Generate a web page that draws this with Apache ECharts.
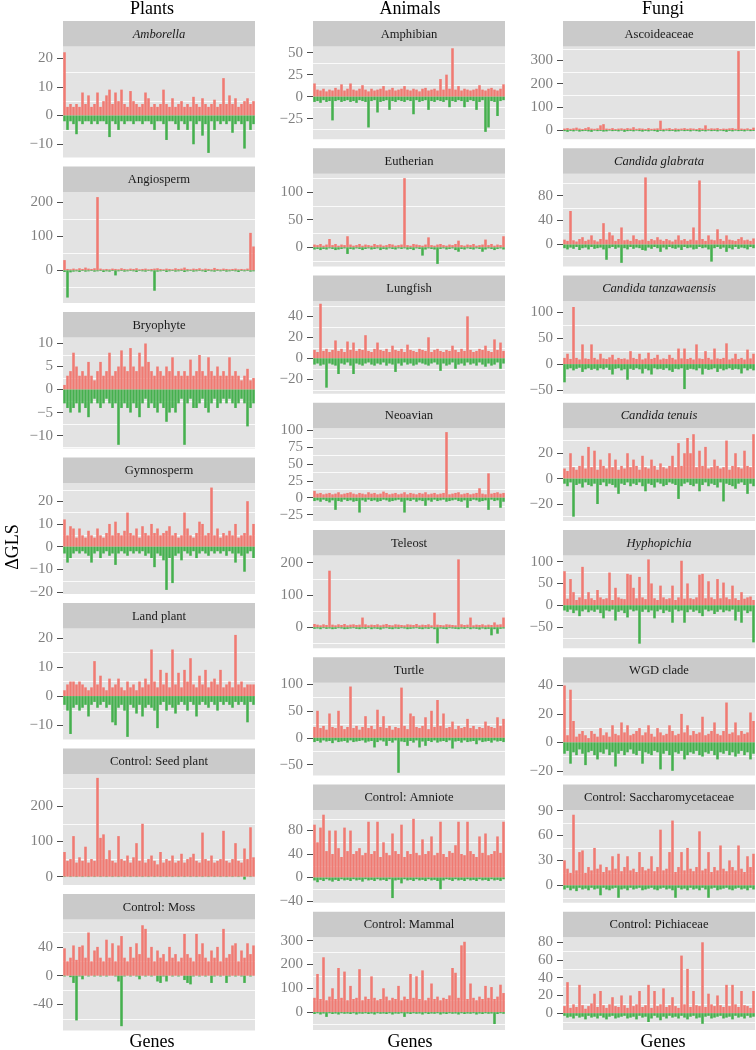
<!DOCTYPE html>
<html><head><meta charset="utf-8">
<script src="https://cdn.jsdelivr.net/npm/echarts@6/dist/echarts.min.js"></script>
<style>html,body{margin:0;padding:0;background:#fff}#c{width:756px;height:1050px}</style>
</head><body><div id="c"></div>
<script>
// ---------------- DATA (ΔGLS per gene bin) ----------------
const amborellaPos=[22,3,4,3,4,3,8,4,7,3,4,8,3,5,7,9, 4,8,5,9,4,3,8.5,5,4,3,4,8,6,3,4,3, 4,9,4,3,6,3,4,5,3,4,3,6.5,4,3,6,4, 3,4,5.5,3,4,13,4,7,4,6,3,4,5,6,4,5];
const amborellaNeg=[-2,-5,-2,-3,-6.5,-2,-3,-2,-2,-3,-2,-3,-2,-2,-3,-7.5, -2,-3,-5,-2,-3,-2,-2,-3,-2,-2,-3,-2,-2,-3,-5,-2, -2,-3,-8.5,-2,-2,-3,-5,-2,-3,-5,-2,-10,-3,-2,-7,-3, -13,-2,-5,-2,-3,-2,-3,-2,-6,-3,-2,-3,-11.5,-2,-5,-3];
const angiospermPos=[30,4,3,5,3,6,4,8,5,4,6,215,5,3,4,3, 5,4,3,6,4,3,5,4,6,3,4,5,3,4,5,6, 4,3,5,4,3,6,4,5,8,4,3,5,4,6,3,5, 4,3,7,4,3,5,4,3,4,5,3,4,3,5,110,70];
const angiospermNeg=[-5,-80,-6,-4,-3,-5,-2,-4,-3,-2,-4,-3,-2,-5,-3,-4, -2,-15,-3,-2,-4,-3,-2,-3,-5,-2,-3,-4,-2,-3,-60,-4, -3,-2,-5,-3,-2,-4,-3,-2,-5,-3,-2,-4,-3,-2,-3,-5, -2,-3,-4,-2,-3,-2,-4,-3,-2,-3,-5,-2,-3,-2,-4,-3];
const bryophytePos=[1,3,4,8,5,3,4,3,6,3,2,4,6,3,4,8, 3,4,5,8.5,5,4,9,5,4,8,5,10,6,4,3,5, 4,3,5,4,7,3,4,3,4,3,6.5,3,4,7.5,4,3, 7,4,3,5,3,4,3,7,3,4,3,2,3,4.5,2,2.5];
const bryophyteNeg=[-3,-4,-5,-4,-3,-5,-3,-4,-6,-3,-2,-3,-4,-3,-2,-3, -4,-3,-12,-4,-3,-4,-5,-3,-4,-6,-3,-2,-4,-3,-4,-5, -3,-4,-7,-5,-4,-5,-3,-2,-12,-3,-2,-4,-4,-3,-2,-4, -5,-3,-2,-4,-3,-2,-3,-2,-3,-4,-3,-2,-3,-8,-4,-3];
const gymnospermPos=[12,5,9,8,4,8,5,4,7,5,4,8,5,4,6,10, 5,11,6,5,7,15,6,5,8,4,9,6,5,10,6,8, 5,6,7,9,5,6,4,5,15,8,5,4,6,11,10,5, 6,26,5,8,4,6,5,7,5,10,4,5,6,20,5,10];
const gymnospermNeg=[-3,-7,-5,-3,-2,-3,-2,-3,-4,-7,-3,-2,-5,-3,-2,-4, -3,-8,-3,-2,-3,-4,-2,-3,-2,-3,-2,-4,-3,-5,-9,-3, -4,-6,-19,-5,-16,-4,-3,-6,-2,-3,-4,-2,-5,-3,-2,-3, -4,-2,-3,-2,-3,-2,-4,-2,-3,-7,-3,-4,-11,-3,-2,-5];
const landPlantPos=[2,4,5,5,4,5,4,3,2,3,12,4,7,3,2,6, 3,4,6,3,2,5,3,4,2,5,3,6,4,16,5,3, 9,4,8,3,16,4,8,3,9,5,13,4,3,7,4,9, 3,5,6,4,9,3,4,5,3,21,4,5,3,4,4,4];
const landPlantNeg=[-3,-5,-13,-4,-3,-5,-4,-3,-7,-3,-2,-4,-3,-2,-4,-3, -9,-10,-4,-3,-5,-14,-3,-4,-6,-3,-7,-4,-3,-4,-5,-11, -3,-2,-5,-3,-4,-6,-3,-2,-3,-5,-2,-3,-7,-3,-2,-3, -4,-2,-3,-5,-2,-3,-2,-3,-4,-2,-3,-2,-3,-9,-2,-3];
const seedPlantPos=[70,45,50,115,40,55,45,85,40,50,45,280,110,120,50,75, 45,40,115,50,45,60,40,55,95,45,150,40,50,60,45,35, 70,40,50,45,60,40,45,65,40,50,55,65,45,40,125,50, 45,60,40,45,50,130,45,40,50,95,45,40,80,50,140,55];
const seedPlantNeg=[-1,0,-1,0,-1,0,-1,0,-1,0,-1,0,-1,0,-1,0, -1,0,-1,0,-1,0,-1,0,-1,0,-1,0,-1,0,-1,0, -1,0,-1,0,-1,0,-1,0,-1,0,-1,0,-1,0,-1,0, -1,0,-1,0,-1,0,-1,0,-1,0,-1,0,-8,0,-1,0];
const mossPos=[38,20,25,42,22,40,42,25,60,20,35,40,25,20,50,25, 45,20,42,55,25,20,40,25,45,30,70,65,25,40,20,35, 25,30,20,40,25,30,20,25,58,30,25,20,58,30,45,25, 20,35,25,40,20,65,25,30,42,45,20,35,25,45,30,42];
const mossNeg=[-1,0,-2,-10,-62,-1,-5,0,-1,0,-1,0,-1,0,-1,0, 0,-1,-8,-70,-1,0,-1,0,-1,-5,0,-1,0,-1,0,-8, -10,-1,-8,0,-1,0,-1,0,-6,-10,-12,-1,0,-1,0,-1, 0,-10,-1,0,-1,0,-10,-1,0,-1,0,-1,-10,0,-1,0];

const amphibianPos=[15,8,7,9,6,8,7,10,8,14,7,9,15,8,7,9, 13,8,6,9,7,8,9,12,7,8,10,7,8,9,12,8, 7,9,8,6,9,10,7,8,9,7,20,8,25,9,55,8, 12,7,9,8,7,8,9,13,8,7,9,10,8,7,9,14];
const amphibianNeg=[-6,-5,-7,-4,-6,-5,-27,-5,-4,-6,-5,-4,-6,-5,-7,-4, -5,-6,-35,-5,-4,-18,-6,-5,-4,-15,-5,-6,-4,-5,-6,-4, -5,-20,-4,-6,-5,-4,-15,-5,-6,-4,-5,-6,-4,-12,-5,-6, -4,-5,-12,-6,-4,-5,-15,-6,-4,-40,-35,-5,-6,-22,-5,-4];
const eutherianPos=[5,4,6,3,5,15,4,6,3,5,4,20,5,3,4,6, 3,5,4,3,6,4,5,3,4,6,5,3,4,5,125,4, 3,6,5,4,3,5,18,4,3,5,6,4,3,5,4,6, 12,4,3,5,4,6,3,4,5,14,4,6,3,5,4,20];
const eutherianNeg=[-4,-3,-5,-3,-4,-2,-3,-5,-4,-3,-2,-12,-3,-4,-2,-3, -5,-3,-2,-4,-3,-2,-5,-3,-4,-2,-3,-4,-2,-3,-2,-4, -3,-5,-2,-3,-15,-4,-2,-3,-4,-30,-3,-2,-4,-3,-2,-5, -8,-3,-4,-2,-3,-4,-2,-3,-8,-4,-2,-3,-5,-3,-2,-4];
const lungfishPos=[8,6,52,7,9,6,8,17,7,9,6,16,8,15,7,9, 8,22,7,6,9,15,8,7,9,6,12,8,7,9,6,13, 8,7,6,9,8,7,20,6,8,9,7,6,8,7,12,8, 6,9,7,40,8,6,7,9,8,12,7,6,18,8,15,7];
const lungfishNeg=[-6,-5,-7,-6,-28,-5,-6,-7,-15,-5,-6,-4,-7,-15,-5,-6, -7,-5,-4,-6,-7,-5,-6,-4,-7,-5,-6,-13,-5,-7,-4,-6, -5,-7,-6,-4,-5,-6,-7,-5,-4,-6,-12,-5,-7,-6,-4,-10, -6,-5,-7,-4,-6,-5,-7,-4,-6,-8,-5,-7,-6,-4,-10,-5];
const neoavianPos=[10,6,7,5,6,7,5,6,8,5,6,7,8,6,5,7, 6,5,8,6,7,5,6,9,7,5,6,7,5,6,8,5, 7,6,5,7,6,8,5,6,7,5,6,7,97,5,6,7, 8,5,6,7,5,6,7,14,6,5,36,6,7,8,6,7];
const neoavianNeg=[-5,-4,-6,-3,-5,-7,-4,-18,-5,-6,-3,-5,-4,-6,-5,-22, -4,-6,-3,-5,-4,-6,-5,-3,-4,-6,-5,-4,-3,-6,-22,-4, -5,-3,-6,-4,-5,-12,-4,-6,-3,-5,-4,-3,-6,-5,-4,-3, -5,-6,-4,-15,-5,-3,-4,-6,-5,-4,-18,-3,-5,-4,-15,-6];
const teleostPos=[10,8,6,9,7,175,8,6,9,7,10,6,8,9,7,8, 30,9,6,8,7,9,6,8,10,7,6,9,8,7,6,9, 8,7,10,6,8,7,9,6,45,8,7,6,9,8,7,6, 210,9,7,8,30,6,8,7,9,6,8,7,15,8,9,30];
const teleostNeg=[-5,-4,-6,-3,-5,-4,-6,-5,-3,-4,-6,-5,-4,-3,-5,-6, -4,-5,-3,-6,-4,-5,-7,-4,-3,-5,-6,-4,-5,-3,-4,-6, -5,-4,-3,-5,-6,-4,-5,-3,-6,-50,-4,-5,-6,-3,-4,-5, -6,-4,-5,-3,-6,-4,-5,-7,-4,-6,-5,-25,-6,-20,-5,-4];
const turtlePos=[20,50,18,22,15,45,20,18,50,22,16,20,95,18,22,15, 20,40,18,22,16,52,20,40,18,22,15,20,18,93,22,16, 45,40,20,18,22,38,16,50,20,70,22,45,18,20,30,16, 22,18,20,35,18,22,16,20,18,30,22,20,18,38,22,35];
const turtleNeg=[-8,-6,-9,-5,-7,-6,-10,-5,-8,-7,-6,-9,-5,-8,-7,-6, -5,-9,-7,-6,-18,-8,-5,-7,-15,-6,-9,-5,-65,-7,-8,-15, -6,-9,-5,-18,-7,-15,-6,-8,-5,-9,-7,-6,-8,-5,-20,-7, -6,-9,-5,-8,-7,-6,-12,-5,-8,-7,-6,-9,-5,-7,-6,-8];
const amniotePos=[90,60,85,107,45,80,40,80,50,35,85,45,80,40,45,50, 38,42,95,40,45,95,35,60,42,38,75,45,40,90,35,45, 40,100,42,38,65,40,45,70,38,42,95,40,35,45,42,55, 95,40,38,95,45,40,35,70,42,75,38,40,45,70,42,95];
const amnioteNeg=[-5,-8,-4,-6,-3,-5,-7,-4,-6,-3,-5,-4,-6,-3,-5,-4, -7,-3,-5,-4,-6,-3,-5,-4,-6,-3,-35,-5,-4,-10,-3,-5, -4,-6,-3,-5,-4,-6,-3,-5,-4,-6,-20,-5,-3,-4,-6,-3, -5,-4,-6,-3,-5,-4,-6,-3,-5,-4,-6,-3,-5,-4,-6,-3];
const mammalPos=[60,160,55,230,50,65,100,55,185,60,170,50,110,55,60,180, 50,65,55,150,60,50,55,100,65,50,60,55,110,50,65,55, 160,60,150,55,175,50,60,120,55,65,50,60,55,70,185,165, 60,280,295,55,120,60,50,65,55,110,60,105,55,65,115,80];
const mammalNeg=[-8,-5,-10,-6,-20,-5,-8,-6,-10,-5,-7,-6,-8,-5,-10,-6, -7,-5,-8,-6,-10,-5,-7,-6,-8,-5,-10,-6,-7,-5,-20,-6, -8,-5,-7,-6,-10,-5,-8,-6,-7,-5,-10,-6,-8,-5,-7,-6, -10,-5,-8,-6,-7,-5,-10,-6,-8,-5,-7,-6,-50,-8,-5,-7];

const ascoidPos=[6,8,5,7,10,6,4,8,12,6,5,7,20,25,6,5, 8,4,6,7,5,8,6,12,5,7,6,4,8,5,6,7, 40,5,6,8,4,7,5,6,8,5,7,6,4,8,6,20, 5,7,6,8,4,6,5,7,8,5,340,6,5,7,4,10];
const ascoidNeg=[-5,-8,-4,-6,-3,-7,-5,-4,-6,-8,-3,-5,-4,-7,-6,-3, -5,-4,-6,-3,-8,-5,-4,-6,-3,-5,-7,-4,-6,-3,-5,-8, -4,-6,-3,-5,-4,-7,-6,-3,-5,-4,-6,-3,-5,-7,-4,-6, -3,-5,-4,-6,-3,-5,-8,-4,-6,-3,-5,-4,-6,-3,-5,-4];
const glabrataPos=[8,6,55,7,5,9,12,6,8,15,7,5,9,35,8,20, 15,6,9,28,7,8,6,15,9,7,8,110,6,9,7,12, 8,6,9,7,5,8,15,7,9,6,8,28,7,105,9,6, 15,8,7,25,9,6,15,8,7,6,9,12,7,8,6,10];
const glabrataNeg=[-6,-8,-5,-7,-4,-9,-6,-5,-8,-4,-7,-6,-5,-8,-25,-6, -4,-7,-5,-30,-6,-8,-4,-7,-5,-6,-9,-10,-5,-7,-4,-6, -12,-5,-8,-4,-6,-7,-5,-9,-4,-6,-5,-8,-7,-4,-6,-5, -8,-28,-6,-4,-7,-5,-12,-6,-8,-4,-7,-5,-6,-8,-4,-6];
const tanzawaensisPos=[12,20,10,110,12,9,38,11,10,38,12,9,20,11,10,13, 18,9,12,10,11,9,25,12,10,20,9,11,22,10,12,18, 9,11,10,18,12,9,30,11,30,10,12,9,38,11,10,25, 12,9,30,11,10,12,40,9,11,20,10,12,9,28,11,20];
const tanzawaensisNeg=[-35,-10,-8,-12,-9,-7,-15,-10,-8,-11,-9,-12,-8,-10,-7,-11, -20,-9,-8,-12,-10,-30,-9,-11,-8,-10,-18,-9,-12,-20,-8,-10, -9,-11,-8,-12,-15,-9,-10,-8,-48,-11,-9,-10,-12,-8,-20,-9, -11,-10,-8,-15,-9,-12,-10,-8,-11,-9,-10,-18,-8,-12,-9,-12];
const tenuisPos=[8,6,20,9,7,10,18,8,25,9,22,7,15,10,8,20, 9,15,7,10,8,20,9,15,10,7,18,9,8,15,10,7, 12,9,8,10,18,9,28,10,20,32,20,35,9,22,10,25, 8,9,15,10,8,9,30,7,10,20,9,8,22,10,9,35];
const tenuisNeg=[-4,-6,-3,-30,-5,-4,-7,-3,-5,-6,-4,-20,-5,-3,-6,-4, -5,-7,-12,-4,-5,-3,-6,-4,-5,-3,-6,-10,-4,-5,-7,-3, -4,-6,-5,-3,-4,-5,-16,-6,-4,-3,-5,-6,-4,-10,-5,-3, -6,-4,-5,-7,-3,-18,-4,-5,-6,-8,-4,-3,-5,-12,-4,-6];
const hyphopichiaPos=[78,15,60,30,12,18,88,14,30,16,12,35,18,14,16,75, 12,40,18,15,14,72,70,40,16,65,18,14,105,50,16,12, 45,18,14,16,45,12,18,102,15,50,16,14,18,70,72,16, 55,18,14,60,16,52,18,14,45,16,12,30,15,18,20,12];
const hyphopichiaNeg=[-12,-15,-10,-18,-12,-25,-14,-10,-16,-12,-15,-10,-18,-30,-12,-14, -10,-35,-15,-12,-18,-28,-10,-14,-12,-88,-15,-10,-16,-12,-30,-14, -10,-18,-12,-15,-40,-10,-14,-12,-40,-16,-10,-15,-12,-18,-25,-10, -14,-12,-20,-15,-10,-16,-12,-14,-10,-35,-15,-40,-12,-18,-14,-85];
const wgdPos=[40,5,37,15,4,6,8,5,3,8,6,4,10,5,7,4, 12,6,5,14,7,12,5,6,8,10,5,7,12,6,4,10, 7,5,6,12,8,5,6,20,7,12,5,8,6,7,18,5, 6,8,14,6,5,8,28,6,7,14,5,8,6,7,21,15];
const wgdNeg=[-8,-6,-15,-7,-9,-5,-8,-16,-7,-6,-9,-12,-7,-8,-5,-9, -7,-17,-8,-6,-9,-7,-5,-8,-9,-6,-15,-7,-8,-9,-6,-7, -19,-8,-6,-9,-20,-7,-8,-6,-12,-9,-7,-8,-6,-9,-10,-7, -8,-6,-9,-12,-7,-8,-6,-9,-7,-10,-8,-6,-9,-7,-12,-8];
const saccharoPos=[30,20,15,85,18,40,42,15,22,18,45,20,25,16,22,18, 35,20,38,17,22,35,18,20,16,40,22,18,20,35,17,22, 67,18,20,40,78,16,22,40,18,45,20,17,22,65,18,20, 40,16,22,18,48,20,17,30,22,18,48,20,16,35,22,38];
const saccharoNeg=[-5,-3,-6,-4,-7,-3,-5,-4,-6,-3,-5,-4,-12,-3,-5,-6, -4,-3,-15,-5,-4,-6,-3,-5,-4,-3,-6,-5,-4,-3,-5,-6, -4,-3,-5,-4,-6,-15,-3,-5,-4,-6,-3,-5,-4,-6,-3,-5, -15,-4,-3,-6,-5,-4,-3,-5,-6,-4,-3,-5,-4,-6,-3,-5];
const pichiaPos=[8,35,6,10,7,32,9,5,8,11,22,7,25,9,6,10, 18,8,7,20,9,6,20,8,10,25,7,9,32,6,25,8, 10,28,7,9,18,8,6,65,10,50,7,25,9,8,80,7, 22,10,8,20,9,7,32,8,32,10,7,25,9,8,6,25];
const pichiaNeg=[-3,-5,-4,-6,-3,-5,-4,-7,-3,-5,-4,-6,-3,-5,-7,-4, -3,-6,-5,-4,-3,-6,-5,-4,-7,-3,-5,-4,-10,-6,-3,-5, -8,-4,-6,-3,-5,-4,-6,-3,-5,-7,-4,-3,-6,-5,-12,-4, -3,-6,-5,-4,-3,-6,-5,-4,-7,-3,-5,-4,-6,-3,-5,-4];

// panel order: Plants (7), Animals (8), Fungi (8)
const columnTitles=['Plants','Animals','Fungi'];
const panelTitles=['Amborella','Angiosperm','Bryophyte','Gymnosperm','Land plant','Control: Seed plant','Control: Moss',
  'Amphibian','Eutherian','Lungfish','Neoavian','Teleost','Turtle','Control: Amniote','Control: Mammal',
  'Ascoideaceae','Candida glabrata','Candida tanzawaensis','Candida tenuis','Hyphopichia','WGD clade','Control: Saccharomycetaceae','Control: Pichiaceae'];
const posData=[amborellaPos,angiospermPos,bryophytePos,gymnospermPos,landPlantPos,seedPlantPos,mossPos,
  amphibianPos,eutherianPos,lungfishPos,neoavianPos,teleostPos,turtlePos,amniotePos,mammalPos,
  ascoidPos,glabrataPos,tanzawaensisPos,tenuisPos,hyphopichiaPos,wgdPos,saccharoPos,pichiaPos];
const negData=[amborellaNeg,angiospermNeg,bryophyteNeg,gymnospermNeg,landPlantNeg,seedPlantNeg,mossNeg,
  amphibianNeg,eutherianNeg,lungfishNeg,neoavianNeg,teleostNeg,turtleNeg,amnioteNeg,mammalNeg,
  ascoidNeg,glabrataNeg,tanzawaensisNeg,tenuisNeg,hyphopichiaNeg,wgdNeg,saccharoNeg,pichiaNeg];
const yRanges=[[-14.6,24],[-96,230],[-12.8,11.3],[-20.8,28],[-14.9,23.2],[-23.5,291],[-76,78],
  [-48.4,57],[-34.7,133],[-33.8,54.6],[-34.5,102.7],[-65,222],[-70,102],[-43,115],[-75,314],
  [-40,360],[-36,116],[-57,121.5],[-33.4,39.7],[-98.5,114],[-23.3,41.9],[-21,90.7],[-19,85.7]];
const yTicks=[[-10,0,10,20],[0,100,200],[-10,-5,0,5,10],[-20,-10,0,10,20],[-10,0,10,20],[0,100,200],[-40,0,40],
  [-25,0,25,50],[0,50,100],[-20,0,20,40],[-25,0,25,50,75,100],[0,100,200],[-50,0,50,100],[-40,0,40,80],[0,100,200,300],
  [0,100,200,300],[0,40,80],[-50,0,50,100],[-20,0,20],[-50,0,50,100],[-20,0,20,40],[0,30,60,90],[0,20,40,60,80]];

// ---------------- STYLE / LAYOUT ----------------
const FONT='"Liberation Serif","Times New Roman",serif';
const RED='#F07A72', GREEN='#45B04E';
const italicPanels=new Set([0,16,17,18,19]);
const hyphenPanels=new Set([6]);
const colLeft=[63,313,563], plotW=192, top0=21, stripH=25.5;
const colLayout=[{n:7,pitch:145.5,plotH:111},{n:8,pitch:127.25,plotH:92.75},{n:8,pitch:127.25,plotH:92.75}];
const titleX=[152,410,663];

const grids=[],xAxes=[],yAxes=[],series=[],graphics=[];
let k=0;
for(let c=0;c<3;c++){
  for(let r=0;r<colLayout[c].n;r++,k++){
    const L=colLeft[c], st=top0+r*colLayout[c].pitch, pt=st+stripH, ph=colLayout[c].plotH;
    grids.push({left:L,top:pt,width:plotW,height:ph,show:true,backgroundColor:'#E3E3E3',borderWidth:0});
    const pos=posData[k], neg=negData[k], n=Math.max(pos.length,neg.length);
    xAxes.push({type:'category',gridIndex:k,data:Array.from({length:n},(_,i)=>i),show:false,boundaryGap:true});
    const [mn,mx]=yRanges[k], t=yTicks[k], step=t[1]-t[0];
    let v=t[0]-step/2; while(v-step>=mn) v-=step;
    const gl=[]; for(;v<=mx;v+=step){ if(v>=mn) gl.push(v); }
    const kk=k;
    yAxes.push({type:'value',gridIndex:k,min:mn,max:mx,position:'left',
      axisLine:{show:false},splitLine:{show:false},
      axisTick:{show:true,length:6,customValues:t,lineStyle:{color:'#4D4D4D',width:1}},
      axisLabel:{show:true,customValues:t,margin:10,color:'#808080',fontFamily:FONT,fontSize:15,
        formatter:(val)=> val<0 ? (hyphenPanels.has(kk)?'-':'\u2212')+(-val) : String(val)}});
    yAxes.push({type:'value',gridIndex:k,min:mn,max:mx,position:'right',
      axisLine:{show:false},axisLabel:{show:false},
      axisTick:{show:false,customValues:gl},
      splitLine:{show:true,lineStyle:{color:'#FAFAFA',width:1}}});
    series.push({type:'bar',xAxisIndex:k,yAxisIndex:2*k,data:pos,barWidth:'85%',barGap:'-100%',itemStyle:{color:RED},silent:true});
    series.push({type:'bar',xAxisIndex:k,yAxisIndex:2*k,data:neg,barWidth:'85%',barGap:'-100%',itemStyle:{color:GREEN},silent:true});
    graphics.push({type:'rect',shape:{x:L,y:st,width:plotW,height:stripH},style:{fill:'#CACACA'},silent:true});
    graphics.push({type:'text',x:L+plotW/2,y:st+stripH/2+0.5,silent:true,
      style:{text:panelTitles[k],fill:'#1A1A1A',align:'center',verticalAlign:'middle',
        font:(italicPanels.has(k)?'italic ':'')+'12.6px '+FONT}});
  }
}
for(let c=0;c<3;c++){
  graphics.push({type:'text',x:titleX[c],y:9,silent:true,style:{text:columnTitles[c],fill:'#000',align:'center',verticalAlign:'middle',font:'18px '+FONT}});
  graphics.push({type:'text',x:titleX[c],y:1042,silent:true,style:{text:'Genes',fill:'#000',align:'center',verticalAlign:'middle',font:'18px '+FONT}});
}
graphics.push({type:'text',x:13,y:547,rotation:Math.PI/2,silent:true,style:{text:'\u0394GLS',fill:'#000',align:'center',verticalAlign:'middle',font:'18px '+FONT}});

const chart=echarts.init(document.getElementById('c'),null,{renderer:'canvas'});
chart.setOption({animation:false,backgroundColor:'#fff',grid:grids,xAxis:xAxes,yAxis:yAxes,series:series,graphic:graphics});
</script></body></html>
